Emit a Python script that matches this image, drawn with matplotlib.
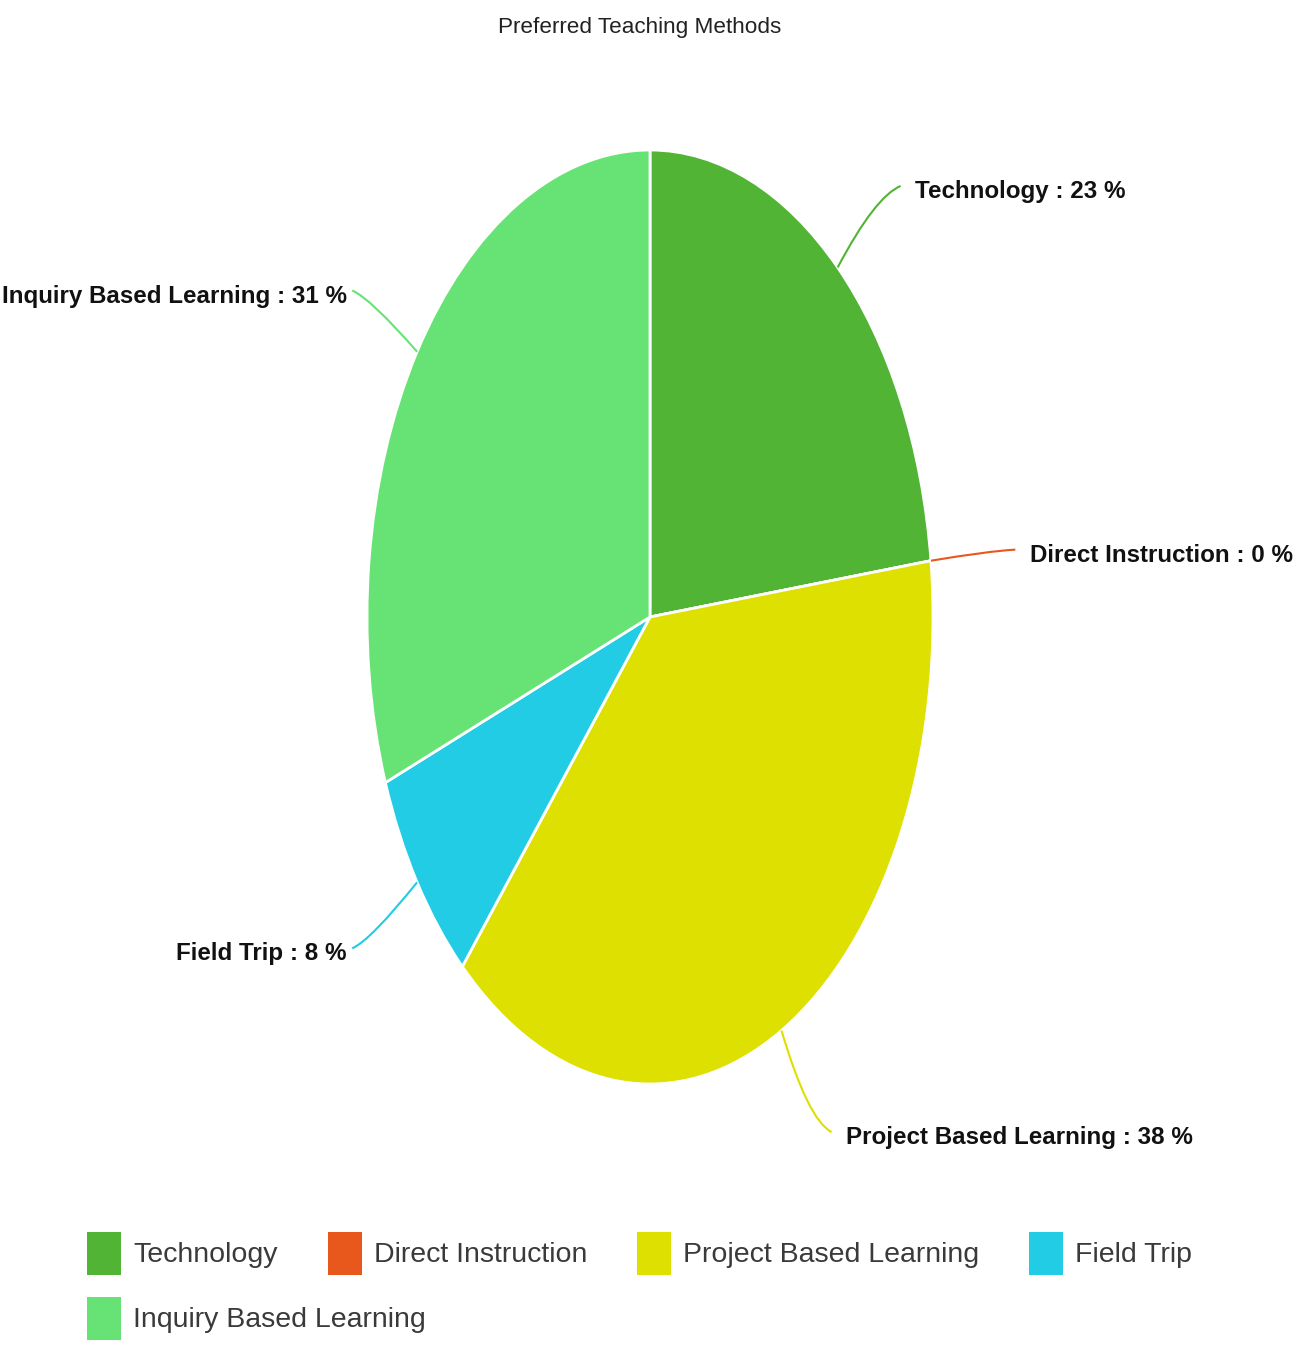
import numpy as np
import matplotlib
matplotlib.use("Agg")
import matplotlib.pyplot as plt
from matplotlib.path import Path
from matplotlib.patches import PathPatch, Patch

# ---- data ----
categories = ["Technology", "Direct Instruction", "Project Based Learning", "Field Trip", "Inquiry Based Learning"]
responses = [3, 0, 5, 1, 4]
colors = ["#52B434", "#E8581C", "#DDE000", "#22CCE5", "#66E374"]
title = "Preferred Teaching Methods"

FAM = ["Liberation Sans", "DejaVu Sans"]

W, H = 1311, 1351
fig = plt.figure(figsize=(W / 100, H / 100), dpi=100)
ax = fig.add_axes([0, 0, 1, 1])

cx, cy, rx, ry = 650, 617, 283, 467
wedges, _ = ax.pie(responses, colors=colors, startangle=90, counterclock=False,
                   wedgeprops=dict(edgecolor="white", linewidth=2))
ax.set_aspect("auto")
ax.set_xlim(-cx / rx, (W - cx) / rx)
ax.set_ylim(-(H - cy) / ry, cy / ry)
ax.axis("off")

total = sum(responses)
ydrop = 8 / ry
for w, name, val, col in zip(wedges, categories, responses, colors):
    th = np.deg2rad((w.theta1 + w.theta2) / 2)
    c, s = np.cos(th), np.sin(th)
    side = 1 if c >= 0 else -1
    p0 = (c * 1.0, s * 1.0)
    ly = s * 1.24 - ydrop
    hook = 0.07 if side > 0 else 0.04
    p2 = (c * 1.23 + side * hook, ly + 0.012)
    p1 = (c * 1.2, ly + 0.012 - s * 0.03)
    path = Path([p0, p1, p2], [Path.MOVETO, Path.CURVE3, Path.CURVE3])
    ax.add_patch(PathPatch(path, facecolor="none", edgecolor=col, lw=1.5, clip_on=False))
    gap = 0.05 if side > 0 else 0.02
    pct = round(val / total * 100)
    ax.text(p2[0] + side * gap, ly, f"{name} : {pct} %",
            ha="left" if side > 0 else "right", va="center",
            fontsize=17.4, fontweight="bold", color="#111111", family=FAM, clip_on=False)

fig.text(640 / W, 1 - 27 / H, title, ha="center", va="center", fontsize=16.2,
         color="#222222", family=FAM)

handles = [Patch(facecolor=c, edgecolor="none") for c in colors]
fs = 20.5
fpx = fs * 100 / 72
leg_kw = dict(frameon=False, handlelength=34 / fpx, handleheight=1.93,
              handletextpad=12 / fpx, columnspacing=50 / fpx, borderpad=0, borderaxespad=0,
              loc="upper left", prop=dict(family=FAM, size=fs), labelcolor="#3a3a3a")
leg1 = fig.legend(handles[:4], categories[:4], ncol=4,
                  bbox_to_anchor=(87 / W, 1 - 1232 / H), **leg_kw)
leg2 = fig.legend(handles[4:], categories[4:], ncol=1,
                  bbox_to_anchor=(87 / W, 1 - 1297 / H), **leg_kw)

fig.savefig("out.png", dpi=100, facecolor="white")
